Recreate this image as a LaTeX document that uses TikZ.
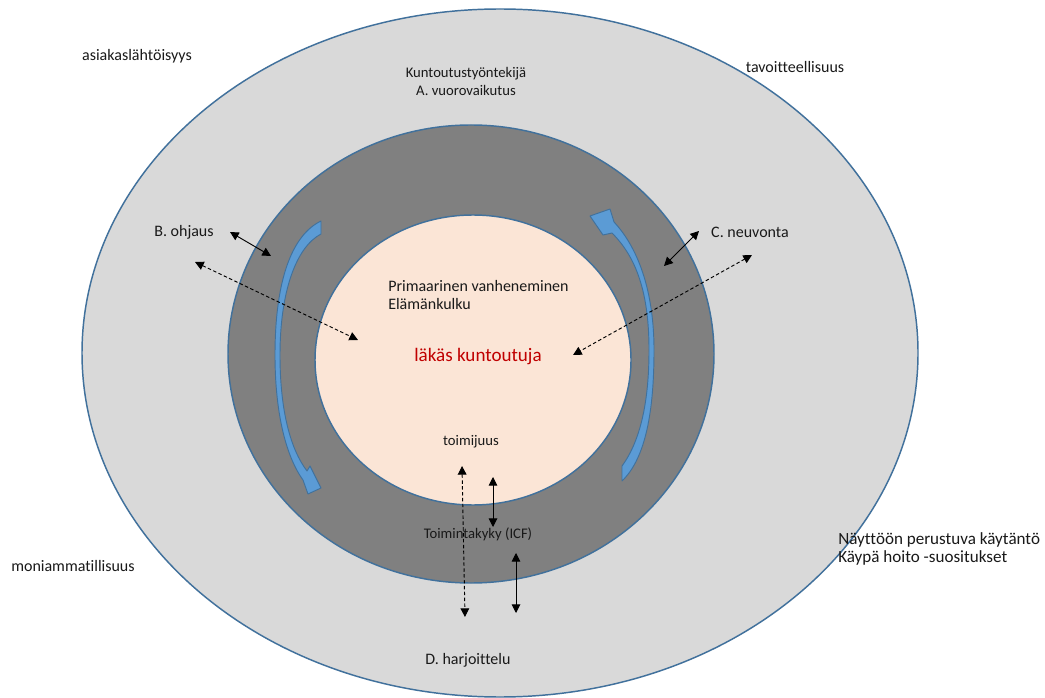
\documentclass[tikz,border=0pt]{standalone}
\usepackage{fontspec}
\setmainfont{Carlito}[Ligatures=CommonOff]
\usetikzlibrary{arrows.meta,shapes.geometric}
\definecolor{ringblue}{HTML}{41719C}
\definecolor{outerfill}{HTML}{D9D9D9}
\definecolor{ringfill}{HTML}{808080}
\definecolor{corefill}{HTML}{FBE5D6}
\definecolor{swirl}{HTML}{5B9BD5}
\definecolor{accent}{HTML}{C00000}
\begin{document}
\begin{tikzpicture}[x=0.75pt,y=-0.75pt,
  disc/.style={ellipse,draw=ringblue,line width=1.1pt,inner sep=0pt},
  lbl/.style={font=\fontsize{12}{14}\selectfont,inner sep=0pt,text=black!90},
  small/.style={font=\fontsize{11}{13.5}\selectfont},
  link/.style={line width=0.7pt,{Triangle[width=6.5pt,length=6.5pt]}-{Triangle[width=6.5pt,length=6.5pt]}},
  dlink/.style={link,dash pattern=on 2.6pt off 1.8pt},
  swirlarrow/.style={fill=swirl,draw=ringblue,line width=0.7pt,line join=round}]
\fill[white] (0,0) rectangle (1045,698);
\useasboundingbox (0,0) rectangle (1045,698);

% three nested discs
\node[disc,fill=outerfill,minimum width=627pt,minimum height=516pt] (outer) at (500,353) {};
\node[disc,fill=ringfill,minimum width=364.5pt,minimum height=343.5pt] (ring) at (471,354) {};
\node[disc,fill=corefill,minimum width=237pt,minimum height=217.5pt] (core) at (473,360) {};

% curved circulation arrows inside the ring
\path[swirlarrow]
  (321,221) -- (321,234)
  .. controls (296,247) and (280,292) .. (280,355)
  .. controls (280,412) and (291,450) .. (307,471)
  -- (310,466) -- (321,488) -- (308,494) -- (303,480)
  .. controls (285,455) and (275,410) .. (275,355)
  .. controls (275,280) and (292,235) .. (321,221) -- cycle;
\path[swirlarrow]
  (622,481) -- (622,466)
  .. controls (641,440) and (649,400) .. (649,350)
  .. controls (649,292) and (636,257) .. (612,233)
  -- (603,235) -- (590,216) -- (610,209) -- (614,222)
  .. controls (640,250) and (654,295) .. (654,350)
  .. controls (654,410) and (646,458) .. (622,481) -- cycle;

% labels
\node[lbl] (client) at (137,56) {asiakaslähtöisyys};
\node[lbl,small,align=center] (worker) at (466,81) {Kuntoutustyöntekijä\\A. vuorovaikutus};
\node[lbl] (goal) at (795,67) {tavoitteellisuus};
\node[lbl] (guide) at (184,232) {B. ohjaus};
\node[lbl] (advice) at (750,232) {C. neuvonta};
\node[lbl,align=left,anchor=west] (ageing) at (388,295) {Primaarinen vanheneminen\\Elämänkulku};
\node[font=\fontsize{14.3}{16}\selectfont,text=accent,inner sep=0pt] (person) at (478,357) {läkäs kuntoutuja};
\node[lbl,small] (agency) at (471,442) {toimijuus};
\node[lbl,small] (ability) at (478,534) {Toimintakyky (ICF)};
\node[lbl] (multi) at (73,566) {moniammatillisuus};
\node[lbl,font=\fontsize{12.8}{13.5}\selectfont,align=left,anchor=west] (evidence) at (838,549) {Näyttöön perustuva käytäntö\\Käypä hoito -suositukset};
\node[lbl] (practice) at (468,660) {D. harjoittelu};

% arrow end points
\coordinate (b1) at (230,232);  \coordinate (b2) at (271,256);
\coordinate (b3) at (195,262);  \coordinate (b4) at (358,340);
\coordinate (c1) at (664,266);  \coordinate (c2) at (699,231);
\coordinate (c3) at (752,255);  \coordinate (c4) at (573,355);
\coordinate (d1) at (462,466);  \coordinate (d2) at (465,617);
\coordinate (d3) at (493,477);  \coordinate (d4) at (493,527);
\coordinate (d5) at (516,553);  \coordinate (d6) at (516,613);

\draw[link] (b1) -- (b2);
\draw[dlink] (b3) -- (b4);
\draw[link] (c1) -- (c2);
\draw[dlink] (c3) -- (c4);
\draw[dlink] (d1) -- (d2);
\draw[link] (d3) -- (d4);
\draw[link] (d5) -- (d6);
\end{tikzpicture}
\end{document}
